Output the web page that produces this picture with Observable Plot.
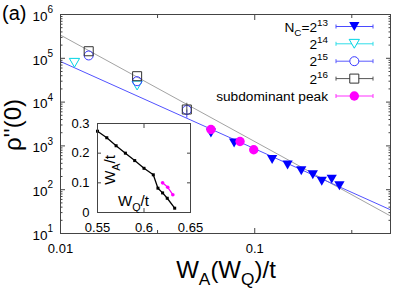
<!DOCTYPE html>
<html><head><meta charset="utf-8">
<script src="https://cdn.jsdelivr.net/npm/d3@7"></script>
<script src="https://cdn.jsdelivr.net/npm/@observablehq/plot@0.6"></script>
<style>
body{margin:0;background:#fff;}
#wrap{position:relative;width:415px;height:291px;overflow:hidden;}
#wrap > svg{position:absolute;}
</style></head><body><div id="wrap"></div>
<script>
// ---------- data ----------
// N_C = 2^13 (filled blue down-triangles)
const n13X = [0.0595, 0.0783, 0.1229, 0.1476, 0.1736, 0.1991, 0.2214, 0.2491, 0.2729];
const n13Y = [1970, 1165, 489, 366, 270, 219, 156, 174, 123];
// N_C = 2^14 (open cyan down-triangles)
const n14X = [0.0118, 0.0248];
const n14Y = [78900, 23900];
// N_C = 2^15 (open blue circles)
const n15X = [0.01397, 0.0248, 0.0447];
const n15Y = [116000, 30000, 6600];
const n15Lo = [116000, 30000, 4300];
const n15Hi = [116000, 30000, 6600];
// N_C = 2^16 (open dark squares)
const n16X = [0.01397, 0.0248, 0.0447];
const n16Y = [145000, 39000, 6780];
const n16Lo = [145000, 39000, 5600];
const n16Hi = [145000, 39000, 9400];
// subdominant peak (filled magenta circles)
const subX = [0.0595, 0.0840, 0.0988];
const subY = [2370, 1260, 815];
// power-law fit lines (endpoints)
const fitX = [0.01, 0.5];
const fitBlueY = [84500, 34.8];
const fitGrayY = [339000, 25.1];
// inset: W_A/t versus W_Q/t
const insWQ = [0.55, 0.56, 0.57, 0.58, 0.59, 0.60, 0.61, 0.615, 0.62, 0.625, 0.633];
const insWA = [0.274, 0.252, 0.225, 0.200, 0.175, 0.149, 0.127, 0.082, 0.066, 0.048, 0.0145];
const insSubWQ = [0.620, 0.6255, 0.631];
const insSubWA = [0.100, 0.085, 0.060];
// ticks
const xMajor = [0.01, 0.1];
const xMinor = [0.0316, 0.316];
const yMajor = [10, 100, 1000, 10000, 100000, 1000000];
const yExp = ["1", "2", "3", "4", "5", "6"];
const insXTicks = [0.55, 0.6, 0.65];
const insYTicks = [0, 0.1, 0.2, 0.3];

// ---------- helpers ----------
const FONT = '"Liberation Sans", Arial, Helvetica, sans-serif';
const pts = (xs, ys) => xs.map((x, i) => ({x, y: ys[i]}));
const errs = (xs, lo, hi) => xs.map((x, i) => ({x, lo: lo[i], hi: hi[i]})).filter(d => d.lo !== d.hi);
const triDown = {draw(ctx, size) {
  const s = Math.sqrt(size * 4 / Math.sqrt(3)), h = s * Math.sqrt(3) / 2;
  ctx.moveTo(-s / 2, -h / 2); ctx.lineTo(s / 2, -h / 2); ctx.lineTo(0, h / 2); ctx.closePath();
}};
const yMinor = [];
for (const m of yMajor.slice(0, -1)) for (let k = 2; k <= 9; k++) yMinor.push(m * k);

const wrap = document.getElementById("wrap");
const FRAME = "#444";

// ---------- main chart ----------
const main = Plot.plot({
  width: 415, height: 291,
  marginLeft: 60, marginRight: 25, marginTop: 14, marginBottom: 58,
  style: {fontFamily: FONT, fontSize: "13px", background: "transparent", color: "#000"},
  x: {type: "log", domain: [0.01, 0.5], axis: null},
  y: {type: "log", domain: [10, 1e6], axis: null},
  marks: [
    Plot.line(pts(fitX, fitGrayY), {x: "x", y: "y", stroke: "#a3a3a3", strokeWidth: 1}),
    Plot.line(pts(fitX, fitBlueY), {x: "x", y: "y", stroke: "#5252ff", strokeWidth: 1}),
    Plot.ruleX(errs(n15X, n15Lo, n15Hi), {x: "x", y1: "lo", y2: "hi", stroke: "#3a3aff"}),
    Plot.ruleX(errs(n16X, n16Lo, n16Hi), {x: "x", y1: "lo", y2: "hi", stroke: "#555"}),
    Plot.dot(pts(n13X, n13Y), {x: "x", y: "y", symbol: triDown, r: 3.8, fill: "#0000ff", stroke: "none"}),
    Plot.dot(pts(n14X, n14Y), {x: "x", y: "y", symbol: triDown, r: 3.8, fill: "none", stroke: "#00d4e4", strokeWidth: 1}),
    Plot.dot(pts(n15X, n15Y), {x: "x", y: "y", symbol: "circle", r: 4.5, fill: "none", stroke: "#3a3aff", strokeWidth: 1}),
    Plot.dot(pts(n16X, n16Y), {x: "x", y: "y", symbol: "square", r: 5.1, fill: "none", stroke: "#333", strokeWidth: 1}),
    Plot.dot(pts(subX, subY), {x: "x", y: "y", symbol: "circle", r: 4.7, fill: "#ff00ff", stroke: "none"}),
    Plot.frame({stroke: FRAME, strokeWidth: 1}),
    // x ticks (inward, mirrored)
    Plot.axisX({anchor: "bottom", ticks: xMajor, tickSize: -5, fill: "none", stroke: FRAME, label: null}),
    Plot.axisX({anchor: "top", ticks: xMajor, tickSize: -5, fill: "none", stroke: FRAME, label: null}),
    Plot.axisX({anchor: "bottom", ticks: xMinor, tickSize: -3, fill: "none", stroke: FRAME, label: null}),
    Plot.axisX({anchor: "top", ticks: xMinor, tickSize: -3, fill: "none", stroke: FRAME, label: null}),
    Plot.axisX({anchor: "bottom", ticks: xMajor, tickSize: 0, tickPadding: 10, stroke: "none", label: null, tickFormat: d => String(d), fontSize: 13}),
    // y ticks (inward, mirrored)
    Plot.axisY({anchor: "left", ticks: yMajor, tickSize: -5, fill: "none", stroke: FRAME, label: null}),
    Plot.axisY({anchor: "right", ticks: yMajor, tickSize: -5, fill: "none", stroke: FRAME, label: null}),
    Plot.axisY({anchor: "left", ticks: yMinor, tickSize: -2.5, fill: "none", stroke: FRAME, label: null}),
    Plot.axisY({anchor: "right", ticks: yMinor, tickSize: -2.5, fill: "none", stroke: FRAME, label: null}),
    // y tick labels 10^n
    Plot.text(yMajor, {y: d => d, text: () => "10", frameAnchor: "left", textAnchor: "end", dx: -13, dy: 2, fontSize: 13.5, fill: "#000"}),
    Plot.text(yMajor, {y: d => d, text: (d, i) => yExp[i], frameAnchor: "left", textAnchor: "start", dx: -13, dy: -4.5, fontSize: 10, fill: "#000"})
  ]
});
wrap.appendChild(main);
main.style.left = "0px"; main.style.top = "0px";

// ---------- inset ----------
const inset = Plot.plot({
  width: 165, height: 125,
  marginLeft: 40, marginTop: 10, marginRight: 32, marginBottom: 26,
  style: {fontFamily: FONT, fontSize: "13px", background: "transparent", color: "#000"},
  x: {domain: [0.55, 0.65], axis: null},
  y: {domain: [0, 0.3], axis: null},
  marks: [
    Plot.line(pts(insWQ, insWA), {x: "x", y: "y", stroke: "#000", strokeWidth: 1.3}),
    Plot.dot(pts(insWQ, insWA), {x: "x", y: "y", symbol: "square", r: 1.7, fill: "#000"}),
    Plot.line(pts(insSubWQ, insSubWA), {x: "x", y: "y", stroke: "#ff00ff", strokeWidth: 1.3}),
    Plot.dot(pts(insSubWQ, insSubWA), {x: "x", y: "y", symbol: "circle", r: 1.8, fill: "#ff00ff"}),
    Plot.frame({stroke: FRAME, strokeWidth: 1}),
    Plot.axisX({anchor: "bottom", ticks: insXTicks, tickSize: -4, fill: "none", stroke: FRAME, label: null}),
    Plot.axisX({anchor: "top", ticks: insXTicks, tickSize: -4, fill: "none", stroke: FRAME, label: null}),
    Plot.axisX({anchor: "bottom", ticks: insXTicks, tickSize: 0, tickPadding: 10, stroke: "none", label: null, tickFormat: d => String(d), fontSize: 13}),
    Plot.axisY({anchor: "left", ticks: insYTicks, tickSize: -4, fill: "none", stroke: FRAME, label: null}),
    Plot.axisY({anchor: "right", ticks: insYTicks, tickSize: -4, fill: "none", stroke: FRAME, label: null}),
    Plot.axisY({anchor: "left", ticks: insYTicks, tickSize: 0, tickPadding: 8, stroke: "none", label: null, tickFormat: d => String(d), fontSize: 13})
  ]
});
wrap.appendChild(inset);
inset.style.left = "57px"; inset.style.top = "113px";

// ---------- overlay: labels and legend ----------
const ov = d3.select(wrap).append("svg")
  .attr("width", 415).attr("height", 291)
  .style("left", "0px").style("top", "0px")
  .attr("font-family", FONT);

function rich(x, y, parts, size, anchor = "start", rotate = null) {
  const t = ov.append("text").attr("x", x).attr("y", y)
    .attr("font-size", size).attr("text-anchor", anchor).attr("fill", "#000");
  if (rotate !== null) t.attr("transform", `rotate(${rotate},${x},${y})`);
  let shift = 0;
  for (const p of parts) {
    const target = p.sub ? size * 0.3 : p.sup ? -size * 0.42 : 0;
    t.append("tspan").attr("dy", target - shift)
      .attr("font-size", p.sub || p.sup ? size * 0.72 : size).text(p.t);
    shift = target;
  }
  return t;
}

rich(2, 20, [{t: "(a)"}], 20);
rich(21, 125, [{t: "ρ''(0)"}], 24, "middle", -90);
rich(226, 278, [{t: "W"}, {t: "A", sub: true}, {t: "(W"}, {t: "Q", sub: true}, {t: ")/t"}], 24, "middle");
rich(115, 170, [{t: "W"}, {t: "A", sub: true}, {t: "/t"}], 15, "middle", -90);
rich(118, 206, [{t: "W"}, {t: "Q", sub: true}, {t: "/t"}], 15);

// legend
const legend = [
  {parts: [{t: "N"}, {t: "C", sub: true}, {t: "=2"}, {t: "13", sup: true}], color: "#0000ff", line: "#4a4aff", kind: "triF"},
  {parts: [{t: "2"}, {t: "14", sup: true}], color: "#00d4e4", line: "#30dde8", kind: "triO"},
  {parts: [{t: "2"}, {t: "15", sup: true}], color: "#3a3aff", line: "#5a5aff", kind: "circO"},
  {parts: [{t: "2"}, {t: "16", sup: true}], color: "#333", line: "#555", kind: "sqO"},
  {parts: [{t: "subdominant peak"}], color: "#ff00ff", line: "#ff30ff", kind: "circF"}
];
const rowY = [26.5, 43.8, 61.2, 78.6, 96];
legend.forEach((L, i) => {
  const cy = rowY[i];
  rich(328, cy + 5, L.parts, 13.7, "end");
  ov.append("line").attr("x1", 336).attr("x2", 373).attr("y1", cy).attr("y2", cy).attr("stroke", L.line).attr("stroke-width", 1);
  for (const xx of [336, 373]) ov.append("line").attr("x1", xx).attr("x2", xx).attr("y1", cy - 2).attr("y2", cy + 2).attr("stroke", L.line);
  const sym = L.kind.startsWith("tri") ? triDown : L.kind.startsWith("circ") ? d3.symbolCircle : d3.symbolSquare;
  const r = L.kind.startsWith("tri") ? 3.8 : L.kind === "sqO" ? 5.1 : L.kind === "circF" ? 4.7 : 4.5;
  const filled = L.kind.endsWith("F");
  ov.append("path").attr("d", d3.symbol(sym, Math.PI * r * r)())
    .attr("transform", `translate(354.3,${cy})`)
    .attr("fill", filled ? L.color : "#fff").attr("stroke", filled ? "none" : L.color);
});
</script></body></html>
